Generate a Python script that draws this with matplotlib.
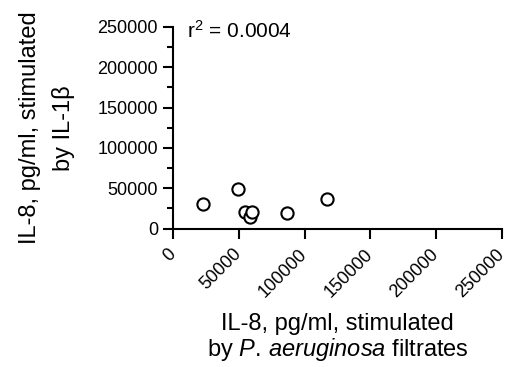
import numpy as np
import matplotlib
matplotlib.use('Agg')
from matplotlib import pyplot as plt
from matplotlib.ticker import MultipleLocator

# values
filtrate_il8 = [22800, 49400, 54500, 58300, 59600, 86900, 116600]
il1b_il8 = [30600, 49100, 20300, 14900, 20700, 19100, 36800]
tick_vals = [0, 50000, 100000, 150000, 200000, 250000]
r2_text = r'r$^2$ = 0.0004'

plt.rcParams['font.family'] = ['Liberation Sans', 'DejaVu Sans']
plt.rcParams['mathtext.fontset'] = 'custom'
plt.rcParams['mathtext.rm'] = 'Liberation Sans'
plt.rcParams['mathtext.it'] = 'Liberation Sans:italic'

fig = plt.figure(figsize=(5.08, 3.67), dpi=100)
ax = fig.add_axes([0.341, 0.377, 0.647, 0.550])

ax.plot(filtrate_il8, il1b_il8, 'o', ms=8.8, mfc='white', mec='black',
        mew=1.5, clip_on=False, zorder=3)

ax.set_xlim(0, 250000)
ax.set_ylim(0, 250000)
ax.set_xticks(tick_vals)
ax.set_yticks(tick_vals)
ax.yaxis.set_minor_locator(MultipleLocator(25000))
ax.set_xticklabels([str(v) for v in tick_vals], rotation=45, ha='right',
                   va='center', rotation_mode='anchor', fontsize=13.5)
ax.tick_params(axis='both', which='major', length=7.5, width=1.5,
               labelsize=13, color='black')
ax.tick_params(axis='y', which='minor', length=4.5, width=1.5)
ax.tick_params(axis='x', pad=9)

for s in ['top', 'right']:
    ax.spines[s].set_visible(False)
for s in ['left', 'bottom']:
    ax.spines[s].set_linewidth(1.5)

ax.set_ylabel('IL-8, pg/ml, stimulated\nby IL-1β', fontsize=17,
              linespacing=1.6)
ax.yaxis.set_label_coords(-0.30, 0.5)
ax.set_xlabel('IL-8, pg/ml, stimulated\n' + r'by $\mathit{P.\,aeruginosa}$ filtrates',
              fontsize=17, linespacing=1.05)
ax.xaxis.set_label_coords(0.5, -0.42)

ax.text(0.042, 0.944, r2_text, transform=ax.transAxes, fontsize=15,
        va='baseline', ha='left')

fig.savefig('out.png', dpi=100)
